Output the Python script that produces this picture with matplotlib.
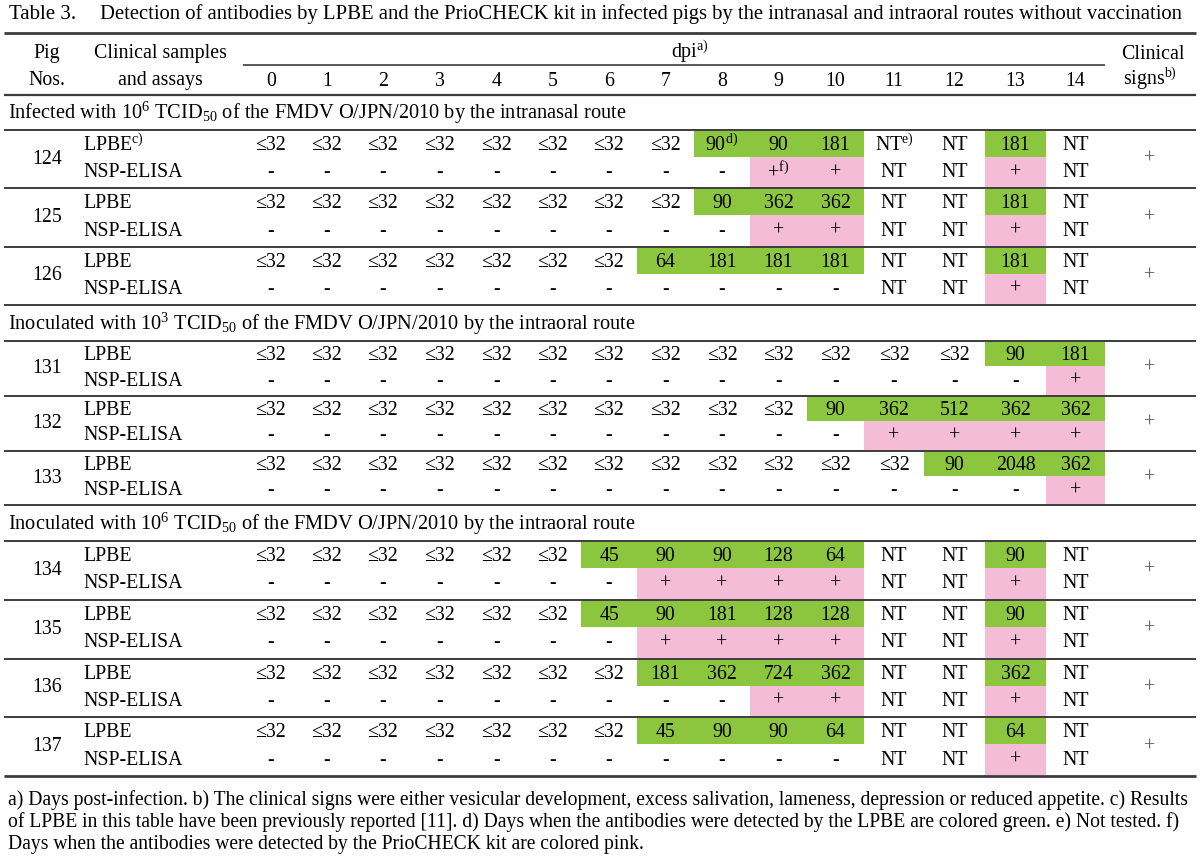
import matplotlib
matplotlib.use("Agg")
import matplotlib.pyplot as plt
from matplotlib.patches import Rectangle

plt.rcParams['font.family'] = ['Liberation Serif', 'DejaVu Serif']
plt.rcParams['mathtext.fontset'] = 'custom'
plt.rcParams['mathtext.rm'] = 'Liberation Serif'
plt.rcParams['mathtext.it'] = 'Liberation Serif:italic'

# ---------------- data ----------------
days = [str(d) for d in range(15)]
L = '≤32'
pigs = ['124', '125', '126', '131', '132', '133', '134', '135', '136', '137']
lpbe_124 = [L]*8 + ['90', '90', '181', 'NT', 'NT', '181', 'NT']
nsp_124 = ['-']*9 + ['+', '+', 'NT', 'NT', '+', 'NT']
lpbe_125 = [L]*8 + ['90', '362', '362', 'NT', 'NT', '181', 'NT']
nsp_125 = ['-']*9 + ['+', '+', 'NT', 'NT', '+', 'NT']
lpbe_126 = [L]*7 + ['64', '181', '181', '181', 'NT', 'NT', '181', 'NT']
nsp_126 = ['-']*11 + ['NT', 'NT', '+', 'NT']
lpbe_131 = [L]*13 + ['90', '181']
nsp_131 = ['-']*14 + ['+']
lpbe_132 = [L]*10 + ['90', '362', '512', '362', '362']
nsp_132 = ['-']*11 + ['+', '+', '+', '+']
lpbe_133 = [L]*12 + ['90', '2048', '362']
nsp_133 = ['-']*14 + ['+']
lpbe_134 = [L]*6 + ['45', '90', '90', '128', '64', 'NT', 'NT', '90', 'NT']
nsp_134 = ['-']*7 + ['+', '+', '+', '+', 'NT', 'NT', '+', 'NT']
lpbe_135 = [L]*6 + ['45', '90', '181', '128', '128', 'NT', 'NT', '90', 'NT']
nsp_135 = ['-']*7 + ['+', '+', '+', '+', 'NT', 'NT', '+', 'NT']
lpbe_136 = [L]*7 + ['181', '362', '724', '362', 'NT', 'NT', '362', 'NT']
nsp_136 = ['-']*9 + ['+', '+', 'NT', 'NT', '+', 'NT']
lpbe_137 = [L]*7 + ['45', '90', '90', '64', 'NT', 'NT', '64', 'NT']
nsp_137 = ['-']*11 + ['NT', 'NT', '+', 'NT']
clinical_signs = ['+']*10

lpbe_rows = [lpbe_124, lpbe_125, lpbe_126, lpbe_131, lpbe_132, lpbe_133,
             lpbe_134, lpbe_135, lpbe_136, lpbe_137]
nsp_rows = [nsp_124, nsp_125, nsp_126, nsp_131, nsp_132, nsp_133,
            nsp_134, nsp_135, nsp_136, nsp_137]
lpbe_labels = [r'LPBE$\mathregular{^{c)}}$'] + ['LPBE']*9
nsp_label = 'NSP-ELISA'

group_titles = [
    r'Infected with $\mathregular{10^{6}}$ TCID$\mathregular{_{50}}$ of the FMDV O/JPN/2010 by the intranasal route',
    r'Inoculated with $\mathregular{10^{3}}$ TCID$\mathregular{_{50}}$ of the FMDV O/JPN/2010 by the intraoral route',
    r'Inoculated with $\mathregular{10^{6}}$ TCID$\mathregular{_{50}}$ of the FMDV O/JPN/2010 by the intraoral route',
]
group_sizes = [3, 3, 4]

# footnote markers on single cells: (pig index, row kind, day, marker)
cell_marks = [(0, 'lpbe', 8, 'd)'), (0, 'lpbe', 11, 'e)'), (0, 'nsp', 9, 'f)')]

title_num = 'Table 3.'
title_text = ('Detection of antibodies by LPBE and the PrioCHECK kit in infected pigs '
              'by the intranasal and intraoral routes without vaccination')
footnotes = [
    'a) Days post-infection. b) The clinical signs were either vesicular development, excess salivation, lameness, depression or reduced appetite. c) Results',
    'of LPBE in this table have been previously reported [11]. d) Days when the antibodies were detected by the LPBE are colored green. e) Not tested. f)',
    'Days when the antibodies were detected by the PrioCHECK kit are colored pink.',
]

# ---------------- layout ----------------
GREEN = '#8cc63f'
PINK = '#f5bcd8'
LINE = '#3c3c3c'
FS = 14.3

col_edges = [243, 299, 355, 411, 468, 525, 581, 637, 694, 750, 807, 864, 924, 985, 1046, 1105]
col_centers = [(col_edges[i] + col_edges[i + 1]) / 2 for i in range(15)]
x_pig = 47
x_sample = 83
x_samp_head = 160
x_clin = 1150

fig = plt.figure(figsize=(12, 8.57), dpi=100)
ax = fig.add_axes([0, 0, 1, 1])
ax.set_xlim(0, 1200)
ax.set_ylim(857, 0)
ax.axis('off')

def hline(y, lw=1.4, x0=4, x1=1196):
    ax.plot([x0, x1], [y, y], color=LINE, lw=lw, solid_capstyle='butt')

# title
ax.text(9, 14, title_num, fontsize=15, va='center', ha='left')
ax.text(100, 14, title_text, fontsize=14.9, va='center', ha='left')
hline(33, lw=2.0)

# header
ax.text(x_pig, 53, 'Pig', fontsize=FS, ha='center', va='center')
ax.text(x_pig, 80, 'Nos.', fontsize=FS, ha='center', va='center')
ax.text(x_samp_head, 53, 'Clinical samples', fontsize=FS, ha='center', va='center')
ax.text(x_samp_head, 80, 'and assays', fontsize=FS, ha='center', va='center')
ax.text(690, 52, r'dpi$\mathregular{^{a)}}$', fontsize=FS, ha='center', va='center')
hline(65, lw=1.2, x0=col_edges[0], x1=col_edges[-1])
for c, d in zip(col_centers, days):
    ax.text(c, 81, d, fontsize=FS, ha='center', va='center')
ax.text(x_clin + 3, 54, 'Clinical', fontsize=FS, ha='center', va='center')
ax.text(x_clin, 79, r'signs$\mathregular{^{b)}}$', fontsize=FS, ha='center', va='center')
hline(95, lw=1.6)

# groups: (title y, first rule y, block height)
group_layout = [(113, 130, 58.4), (324, 341, 54.8), (524, 541, 58.75)]

marks = {(p, k, d): m for p, k, d, m in cell_marks}
pig_i = 0
for g, (title, n) in enumerate(zip(group_titles, group_sizes)):
    ty, top, bh = group_layout[g]
    ax.text(8, ty, title, fontsize=14.7, ha='left', va='center')
    hline(top, lw=1.4)
    for k in range(n):
        y0 = top + k * bh
        ymid = y0 + bh * 0.46
        y1 = y0 + bh
        lp = lpbe_rows[pig_i]
        ns = nsp_rows[pig_i]
        for d in range(15):
            x0, x1 = col_edges[d], col_edges[d + 1]
            if lp[d] not in (L, 'NT'):
                ax.add_patch(Rectangle((x0, y0 + 1), x1 - x0, ymid - y0 - 1,
                                       facecolor=GREEN, edgecolor='none', zorder=0))
            if ns[d] == '+':
                ax.add_patch(Rectangle((x0, ymid), x1 - x0, y1 - ymid - 1,
                                       facecolor=PINK, edgecolor='none', zorder=0))
            ylp = (y0 + ymid) / 2 + 2
            yns = (ymid + y1) / 2
            s = lp[d]
            m = marks.get((pig_i, 'lpbe', d))
            if m:
                s = s + r'$\mathregular{^{' + m + '}}$'
            ax.text(col_centers[d], ylp, s, fontsize=FS, ha='center', va='center')
            s = ns[d]
            m = marks.get((pig_i, 'nsp', d))
            if m:
                s = s + r'$\mathregular{^{' + m + '}}$'
            ax.text(col_centers[d], yns, s, fontsize=FS, ha='center', va='center')
        ax.text(x_sample, (y0 + ymid) / 2 + 2, lpbe_labels[pig_i], fontsize=FS, ha='left', va='center')
        ax.text(x_sample, (ymid + y1) / 2, nsp_label, fontsize=FS, ha='left', va='center')
        ax.text(x_pig, (y0 + y1) / 2, pigs[pig_i], fontsize=FS, ha='center', va='center')
        ax.text(x_clin, (y0 + y1) / 2, clinical_signs[pig_i], fontsize=FS, ha='center',
                va='center', color='#555555')
        hline(y1, lw=2.0 if (g == 2 and k == n - 1) else 1.4)
        pig_i += 1

for i, line in enumerate(footnotes):
    ax.text(8, 800 + i * 22.5, line, fontsize=14.1, ha='left', va='center')

fig.savefig('out.png', dpi=100)
